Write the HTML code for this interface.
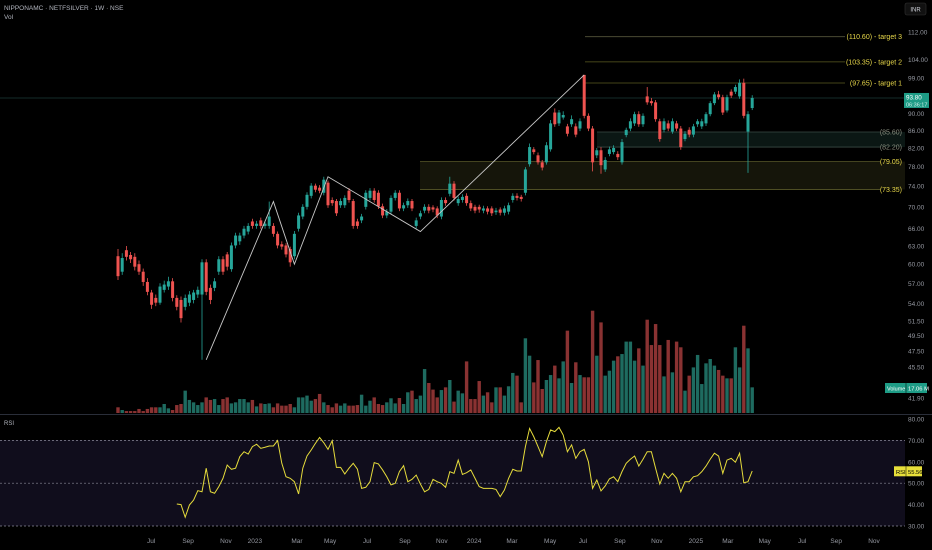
<!DOCTYPE html>
<html><head><meta charset="utf-8">
<style>
html,body{margin:0;padding:0;background:#000;}
svg{display:block;font-family:"Liberation Sans",sans-serif;}
</style></head>
<body>
<svg id="chart" width="932" height="550" viewBox="0 0 932 550" xmlns="http://www.w3.org/2000/svg">
<rect x="0" y="0" width="932" height="550" fill="#000"/>
<text x="4" y="10" fill="#b2b5be" font-size="6.5">NIPPONAMC · NETFSILVER · 1W · NSE</text>
<text x="4" y="19" fill="#b2b5be" font-size="6.5">Vol</text>
<rect x="905" y="3" width="21" height="12" rx="2" fill="#111" stroke="#333" stroke-width="0.6"/>
<text x="915.5" y="11.5" fill="#d1d4dc" font-size="6" text-anchor="middle">INR</text>
<rect x="0" y="440" width="905" height="86" fill="#100d1c"/>
<line x1="0" y1="414.5" x2="932" y2="414.5" stroke="#2a2e39" stroke-width="1"/>
<text x="4" y="425" fill="#b2b5be" font-size="6">RSI</text>
<g id="zones"></g>
<g id="vol"></g>
<g id="candles"></g>
<g id="overlay"></g>
<g id="rsi"></g>
<g id="axes"></g>
</svg>
<script>
const NS="http://www.w3.org/2000/svg";
// ---- data ----
const opens=[61.3,58.8,62.3,61.5,61.2,60.0,58.8,57.2,55.6,54.8,54.1,56.0,56.5,57.3,54.8,54.5,53.5,54.1,54.5,55.3,55.3,60.3,56.3,56.3,58.8,60.8,61.6,59.2,63.1,63.8,64.8,65.5,67.3,66.5,67.5,66.5,66.5,66.5,65.1,63.3,63.1,62.5,61.3,66.0,68.2,70.0,72.1,74.1,73.7,72.7,74.7,71.3,71.1,70.3,70.3,73.1,71.1,67.3,67.5,70.0,71.7,73.1,72.7,70.1,68.4,69.1,71.7,72.7,69.7,70.3,71.1,66.5,68.2,69.3,70.0,69.9,69.7,68.2,71.3,72.5,74.5,70.7,71.3,72.1,70.7,70.0,70.0,69.3,69.7,69.7,69.0,69.5,68.9,69.1,71.3,72.1,71.9,72.7,78.5,81.7,80.4,78.9,78.9,81.7,90.2,87.6,89.0,86.9,87.4,86.9,86.4,99.8,89.4,86.4,80.4,81.5,77.4,80.7,81.1,80.7,78.9,84.9,86.4,87.6,89.8,87.4,94.2,93.0,92.7,88.1,86.1,87.6,85.7,87.6,86.4,84.0,86.1,85.0,87.4,86.9,87.6,89.8,92.5,94.7,94.0,90.7,95.4,95.4,94.2,97.7,85.7,91.3];
const closes=[58.1,61.0,61.2,60.8,59.6,58.8,57.2,55.7,53.8,54.1,56.5,56.8,57.3,54.8,53.5,51.9,54.8,55.3,55.6,56.0,60.3,55.7,54.5,57.3,60.8,58.8,59.6,63.1,64.8,64.8,66.0,66.5,66.5,66.9,66.5,66.9,68.2,65.1,63.1,62.9,61.6,60.3,65.1,68.4,70.0,72.3,74.1,73.3,73.1,75.3,70.3,70.7,68.8,71.1,71.7,71.3,66.5,66.5,68.2,72.7,73.1,71.3,70.1,68.4,69.1,71.7,72.7,69.7,70.3,71.1,69.7,67.5,68.8,70.0,69.3,69.5,68.4,71.3,70.7,74.5,71.7,71.5,71.9,70.7,69.7,69.3,69.5,69.7,69.1,68.8,69.3,68.9,69.7,70.3,72.1,71.7,71.5,77.4,82.2,81.1,78.9,77.8,82.6,87.6,87.4,90.2,89.6,85.2,88.6,85.0,88.1,89.4,86.4,78.9,81.5,78.3,79.4,81.7,82.0,80.0,83.3,86.1,88.1,89.8,87.4,89.4,92.7,92.5,88.6,84.0,88.1,86.4,88.1,86.4,82.2,85.2,85.0,86.9,88.1,88.1,89.8,92.5,94.7,94.0,90.2,94.0,94.4,96.6,97.7,89.4,89.8,93.8];
const highs=[62.5,61.8,63.0,62.0,61.8,60.6,59.3,57.8,56.0,55.3,57.0,57.4,58.0,57.8,55.2,55.0,55.3,55.8,56.0,56.5,60.8,60.8,56.8,57.8,61.3,61.3,62.0,63.6,65.3,65.3,66.5,67.0,67.8,67.4,68.0,67.4,71.0,67.0,65.5,63.8,63.5,62.9,65.6,68.9,70.5,72.8,74.6,74.5,74.2,75.9,75.1,71.8,71.5,71.6,72.2,73.6,71.5,67.8,68.7,73.2,73.6,73.6,73.2,70.6,69.6,72.2,73.2,73.2,70.8,71.6,71.5,68.0,69.3,70.5,70.5,70.3,70.1,71.8,71.8,75.9,75.0,72.0,72.4,72.6,71.2,70.4,70.4,70.2,70.1,70.1,69.8,69.9,70.2,70.8,72.6,72.6,72.3,77.9,83.0,82.2,81.0,79.4,83.3,88.4,91.2,90.8,90.5,87.5,89.5,87.6,88.8,99.8,90.0,87.0,82.0,82.2,80.0,82.3,82.6,81.3,84.0,86.6,88.8,90.4,90.5,90.0,96.6,93.8,93.3,88.7,88.8,88.3,88.8,88.2,87.0,85.8,86.7,87.5,88.6,88.7,90.3,93.0,95.3,95.6,94.6,94.6,96.0,97.2,98.6,98.8,90.5,94.5];
const lows=[57.5,58.3,60.6,60.2,59.0,58.3,56.6,55.2,53.2,53.6,53.8,55.6,56.0,54.3,53.0,51.3,53.0,53.6,54.0,54.8,46.4,55.2,53.9,55.8,58.3,58.3,59.0,58.8,62.6,63.2,64.3,65.0,66.0,66.0,66.0,66.0,66.0,64.6,62.6,62.4,61.1,59.6,60.8,65.5,67.7,69.5,71.6,72.8,72.6,72.2,69.8,70.2,68.3,69.8,69.8,70.8,66.0,66.0,67.0,69.5,71.2,70.8,69.6,67.9,67.9,68.6,71.2,69.2,69.2,69.8,69.2,66.0,67.7,68.8,68.8,69.0,67.9,67.7,70.2,72.0,71.2,70.2,70.8,70.2,69.2,68.8,68.9,68.8,68.6,68.3,68.5,68.4,68.4,68.6,70.8,71.2,71.0,72.2,78.0,80.6,78.4,77.2,78.4,81.2,86.8,87.0,88.5,84.6,86.8,84.4,85.8,88.8,85.8,77.0,79.8,76.5,76.9,80.2,80.6,79.4,78.4,84.4,85.8,87.0,86.8,86.8,92.1,91.9,88.0,83.4,85.5,85.8,85.2,85.8,81.6,83.5,84.4,84.4,86.8,86.3,87.0,89.3,92.0,93.4,89.6,90.2,93.8,94.8,93.6,88.8,76.7,90.8];
const volumes=[3.8,2.0,1.3,1.3,1.3,2.7,1.3,2.7,3.8,3.8,3.8,6.0,3.1,2.0,5.3,6.0,14.9,8.7,7.1,5.3,7.1,10.4,8.7,9.3,5.3,9.3,10.4,6.4,7.1,9.3,9.3,7.1,8.7,4.4,6.4,6.0,6.4,3.8,6.4,4.9,4.9,6.0,3.8,10.4,10.4,11.6,8.2,9.3,12.7,7.1,5.3,3.8,6.4,4.9,6.4,4.9,4.9,5.3,12.2,4.9,8.2,10.4,6.0,5.3,7.1,9.8,6.4,10.0,6.0,13.8,14.9,9.3,11.6,29.3,20.0,15.6,10.4,15.3,17.1,22.0,7.6,14.9,13.1,34.4,9.3,9.3,21.3,11.6,13.8,7.1,17.1,17.1,11.6,17.8,26.7,24.9,7.1,49.8,38.2,20.4,35.3,16.0,22.0,25.3,31.6,23.1,34.4,54.9,20.0,33.8,25.3,23.8,23.8,68.2,38.2,60.4,24.9,28.2,34.9,37.8,39.3,47.6,47.6,34.9,43.1,31.6,62.2,45.3,59.3,45.3,24.4,48.7,27.1,47.6,43.8,14.9,24.9,30.4,38.7,19.3,33.1,36.0,31.6,28.7,24.9,23.1,23.1,43.8,30.4,58.2,43.1,17.1];
const rsiStart=14;
const rsiValues=[40.3,40.0,34.1,39.8,42.1,46.5,46.0,57.0,46.0,45.3,48.4,52.3,58.5,56.5,57.0,62.4,64.7,63.6,67.1,68.2,66.3,66.8,67.4,67.4,69.9,59.3,53.0,52.3,50.7,45.0,57.0,62.7,65.5,68.6,71.4,68.9,65.8,69.9,57.4,57.4,54.3,57.0,59.3,56.6,47.6,48.1,50.7,59.6,59.0,56.2,53.0,49.2,49.9,55.4,58.2,50.7,51.8,53.8,49.6,46.0,47.1,51.8,50.7,49.9,48.1,55.4,54.6,60.8,54.1,54.9,56.2,52.3,48.4,47.6,47.6,47.6,
47.1,43.7,46.8,52.3,56.5,55.7,55.7,67.1,75.6,71.7,67.1,62.4,69.4,74.9,74.1,76.1,72.5,64.7,67.9,61.6,64.7,65.8,60.0,47.6,51.5,46.4,48.7,52.0,53.0,50.7,55.4,59.3,61.2,62.7,58.0,61.2,64.7,64.7,57.0,49.6,54.6,52.3,54.6,52.3,46.0,50.7,50.7,53.0,53.5,55.4,58.0,61.2,64.0,62.7,54.6,60.8,61.6,59.8,64.0,50.2,50.7,55.7];
const priceTicks=[112,104,99,90,86,82,78,74,70,66,63,60,57,54,51.5,49.5,47.5,45.5,41.9];
const rsiTicks=[80,70,60,50,40,30];
const timeLabels=["Jul","Sep","Nov","2023","Mar","May","Jul","Sep","Nov","2024","Mar","May","Jul","Sep","Nov","2025","Mar","May","Jul","Sep","Nov"];
const timeWeeks=[7.9,16.7,25.7,32.6,42.6,50.5,59.3,68.3,77.1,84.8,93.8,102.9,110.7,119.5,128.3,137.6,145.2,154,162.9,171,180];
const targetPrices=[110.60,103.35,97.65];
const targetNames=["target 3","target 2","target 1"];
const zonePrices=[85.60,82.20,79.05,73.35];
const zigzagWeeks=[21,37,42,50,72,111];
const zigzagPrices=[46.4,71.0,60.0,75.9,65.5,99.8];
const lastPrice=93.80;
const lastRsi=55.56;
const lastVolume="17.06 M";
// ---- scales ----
const xW=i=>118+4.2*i;
const yP=p=>32+(Math.log(112)-Math.log(p))*372;
const yV=v=>413-v*1.5;
const yR=v=>526-(v-30)*2.14;
function mk(tag,attrs,parent){const e=document.createElementNS(NS,tag);for(const k in attrs)e.setAttribute(k,attrs[k]);parent.appendChild(e);return e;}
const G=id=>document.getElementById(id);
const GREEN="#26a69a",RED="#ef5350",VG="#1e6b60",VR="#8a3232";
const zg=G('zones');
let r=mk('rect',{x:597,y:yP(zonePrices[0]),width:308,height:yP(zonePrices[1])-yP(zonePrices[0]),fill:'#0b1714'},zg);


r=mk('rect',{x:420,y:yP(zonePrices[2]),width:485,height:yP(zonePrices[3])-yP(zonePrices[2]),fill:'#15150a'},zg);


zonePrices.forEach((p,i)=>{
 const x0=i<2?597:420;
 const l=mk('line',{x1:x0,y1:yP(p),x2:880,y2:yP(p),stroke:i<2?'#3a4a44':'#5a5a2a','stroke-width':0.8},zg);
 
 
 const t=mk('text',{x:902,y:yP(p)+2.5,fill:i<2?'#8a8f80':'#e8d84a','font-size':7,'text-anchor':'end'},zg);
 t.textContent='('+p.toFixed(2)+')';
 
 
});
targetPrices.forEach((p,i)=>{
 const l=mk('line',{x1:585,y1:yP(p),x2:845,y2:yP(p),stroke:i==0?'#55553a':'#5c5c22','stroke-width':0.8},zg);
 
 
 const t=mk('text',{x:902,y:yP(p)+2.5,fill:'#e8d84a','font-size':7,'text-anchor':'end'},zg);
 t.textContent='('+p.toFixed(2)+') - '+targetNames[i];
 
 
});
let cl=mk('line',{x1:0,y1:yP(lastPrice),x2:905,y2:yP(lastPrice),stroke:'#1d3d38','stroke-width':0.8},zg);


const vg=G('vol');
volumes.forEach((v,i)=>{
 const up=closes[i]>=opens[i];
 const b=mk('rect',{x:xW(i)-1.7,y:yV(v),width:3.4,height:413-yV(v),fill:up?VG:VR},vg);
 
 
});
const cg=G('candles');
closes.forEach((c,i)=>{
 const o=opens[i],up=c>=o,col=up?GREEN:RED,x=xW(i);
 const w=mk('line',{x1:x,y1:yP(highs[i]),x2:x,y2:yP(lows[i]),stroke:col,'stroke-width':0.8},cg);
 
 
 const top=yP(Math.max(o,c)),bot=yP(Math.min(o,c));
 const b=mk('rect',{x:x-1.5,y:top,width:3,height:Math.max(1,bot-top),fill:col},cg);
 
 
});
const og=G('overlay');
const zz=mk('polyline',{points:zigzagWeeks.map((w,i)=>xW(w)+','+yP(zigzagPrices[i])).join(' '),fill:'none',stroke:'#c8c8c8','stroke-width':0.9},og);


const rg=G('rsi');
[70,50,30].forEach(v=>{
 const l=mk('line',{x1:0,y1:yR(v),x2:905,y2:yR(v),stroke:'#8a8a99','stroke-width':0.7,'stroke-dasharray':'2,2'},rg);
 
 
});
const rl=mk('polyline',{points:rsiValues.map((v,i)=>xW(i+rsiStart)+','+yR(v)).join(' '),fill:'none',stroke:'#e6dc3c','stroke-width':1},rg);


const ag=G('axes');
priceTicks.forEach(p=>{
 const t=mk('text',{x:908,y:yP(p)+2.5,fill:'#9598a1','font-size':6.5},ag);
 t.textContent=p.toFixed(2);
 
 
});
rsiTicks.forEach(v=>{
 const t=mk('text',{x:908,y:yR(v)+2.5,fill:'#9598a1','font-size':6.5},ag);
 t.textContent=v.toFixed(2);
 
 
});
timeLabels.forEach((s,i)=>{
 const t=mk('text',{x:xW(timeWeeks[i]),y:543,fill:'#9598a1','font-size':6.5,'text-anchor':'middle'},ag);
 t.textContent=s;
 
 
});
let pt=mk('rect',{x:904,y:yP(lastPrice)-5,width:25,height:15,fill:'#1e9c86'},ag);


let t1=mk('text',{x:906,y:yP(lastPrice)+1.5,fill:'#fff','font-size':6.3},ag);t1.textContent=lastPrice.toFixed(2);


let t2=mk('text',{x:906,y:yP(lastPrice)+8.5,fill:'#d0f0ea','font-size':5.5},ag);t2.textContent='06:36:17';


let vt=mk('rect',{x:885,y:383,width:42,height:10,fill:'#1e9c86'},ag);


let vt1=mk('text',{x:887,y:390.5,fill:'#fff','font-size':5.5},ag);vt1.textContent='Volume';


mk('line',{x1:906,y1:383,x2:906,y2:393,stroke:'#000','stroke-width':0.5},ag);
let vt2=mk('text',{x:908,y:390.5,fill:'#fff','font-size':5.8},ag);vt2.textContent=lastVolume;


let rt=mk('rect',{x:894,y:yR(lastRsi)-5,width:28,height:10,fill:'#e8e03a'},ag);


let rt1=mk('text',{x:896,y:yR(lastRsi)+2.5,fill:'#000','font-size':5.8},ag);rt1.textContent='RSI';


mk('line',{x1:906,y1:yR(lastRsi)-5,x2:906,y2:yR(lastRsi)+5,stroke:'#000','stroke-width':0.5},ag);
let rt2=mk('text',{x:908,y:yR(lastRsi)+2.5,fill:'#000','font-size':5.8},ag);rt2.textContent=lastRsi.toFixed(2);


</script>
</body></html>
